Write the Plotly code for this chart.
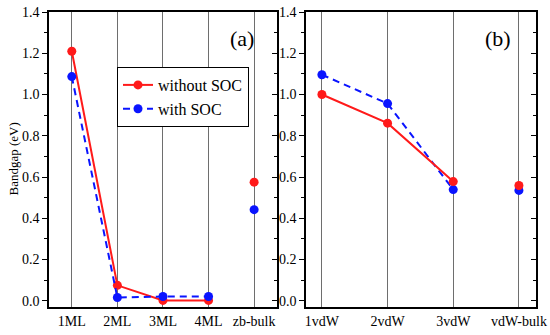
import plotly.graph_objects as go

cats_a = ["1ML", "2ML", "3ML", "4ML"]
bulk_a = ["zb-bulk"]
noSOC_a = [1.21, 0.075, 0.002, 0.002]
SOC_a = [1.087, 0.016, 0.021, 0.021]
noSOC_a_bulk = [0.575]
SOC_a_bulk = [0.442]

cats_b = ["1vdW", "2vdW", "3vdW"]
bulk_b = ["vdW-bulk"]
noSOC_b = [1.0, 0.861, 0.578]
SOC_b = [1.096, 0.956, 0.539]
noSOC_b_bulk = [0.559]
SOC_b_bulk = [0.535]

RED = "#ff1a1a"
BLUE = "#0a14ff"
DASH = "7px,5px"
FONT = "Liberation Serif, Times New Roman, DejaVu Serif, serif"

fig = go.Figure()

def add(x, y, color, dash, name, xa, ya, legend, lines=True):
    fig.add_trace(go.Scatter(
        x=x, y=y, mode="lines+markers" if lines else "markers",
        line=dict(color=color, width=2, dash=dash),
        marker=dict(color=color, size=9),
        name=name, showlegend=legend, xaxis=xa, yaxis=ya))

add(cats_a, noSOC_a, RED, "solid", "without SOC", "x", "y", True)
add(cats_a, SOC_a, BLUE, DASH, "with SOC", "x", "y", True)
add(bulk_a, noSOC_a_bulk, RED, "solid", "", "x", "y", False, False)
add(bulk_a, SOC_a_bulk, BLUE, "solid", "", "x", "y", False, False)
add(cats_b, SOC_b, BLUE, DASH, "", "x2", "y2", False)
add(cats_b, noSOC_b, RED, "solid", "", "x2", "y2", False)
add(bulk_b, SOC_b_bulk, BLUE, "solid", "", "x2", "y2", False, False)
add(bulk_b, noSOC_b_bulk, RED, "solid", "", "x2", "y2", False, False)

# dummy traces for right-side inward ticks
fig.add_trace(go.Scatter(x=["1ML"], y=[None], xaxis="x", yaxis="y3", showlegend=False))
fig.add_trace(go.Scatter(x=["1vdW"], y=[None], xaxis="x2", yaxis="y4", showlegend=False))

yr = [-0.03, 1.4]
tickfont = dict(family=FONT, size=14, color="black")
ycommon = dict(range=yr, tick0=0, dtick=0.2, automargin=False,
               tickformat=".1f", showgrid=False, zeroline=False,
               showline=True, linecolor="black", linewidth=1.5,
               ticks="outside", ticklen=5, tickwidth=1, tickcolor="black",
               minor=dict(ticks="outside", ticklen=3, tickcolor="black", dtick=0.1, tick0=0, showgrid=False),
               tickfont=tickfont)
rcommon = dict(range=yr, tick0=0, dtick=0.2, automargin=False,
               showticklabels=False, showgrid=False, zeroline=False,
               showline=True, linecolor="black", linewidth=1.5,
               ticks="inside", ticklen=5, tickwidth=1, tickcolor="black",
               minor=dict(ticks="inside", ticklen=3, tickcolor="black", dtick=0.1, tick0=0, showgrid=False),
               side="right")
xcommon = dict(type="category", showgrid=True, gridcolor="#6e6e6e", gridwidth=1,
               showline=True, linecolor="black", linewidth=1.5, mirror=True, automargin=False,
               ticks="", tickfont=tickfont, zeroline=False)

fig.update_layout(
    width=550, height=335,
    margin=dict(l=49, r=14, t=12, b=28),
    paper_bgcolor="white", plot_bgcolor="white",
    showlegend=True,
    legend=dict(x=(117 - 49) / 487, y=(307 - 67) / 295, xanchor="left", yanchor="top",
                bgcolor="white", bordercolor="black", borderwidth=1,
                font=dict(family=FONT, size=16, color="black"),
                tracegroupgap=0, itemwidth=30),
    xaxis=dict(domain=[0, 0.468], range=[-0.5, 4.5],
               categoryorder="array", categoryarray=cats_a + bulk_a, anchor="y", **xcommon),
    yaxis=dict(domain=[0, 1], anchor="x", **ycommon),
    yaxis3=dict(overlaying="y", anchor="x", **rcommon),
    xaxis2=dict(domain=[0.528, 1], range=[-0.24, 3.26],
                categoryorder="array", categoryarray=cats_b + bulk_b, anchor="y2", **xcommon),
    yaxis2=dict(domain=[0, 1], anchor="x2", **ycommon),
    yaxis4=dict(overlaying="y2", anchor="x2", **rcommon),
    annotations=[
        dict(text="Bandgap (eV)", x=(13 - 49) / 487, y=0.5, xref="paper", yref="paper", textangle=-90,
             xanchor="center", yanchor="middle", showarrow=False,
             font=dict(family=FONT, size=13, color="black")),
        dict(text="(a)", x="zb-bulk", y=1.34, xref="x", yref="y", xanchor="right", xshift=2, yanchor="top",
             showarrow=False, font=dict(family=FONT, size=22, color="black")),
        dict(text="(b)", x="vdW-bulk", y=1.34, xref="x2", yref="y2", xanchor="right", xshift=-6, yanchor="top",
             showarrow=False, font=dict(family=FONT, size=22, color="black")),
    ],
)

fig.write_html("out.html", config={"displayModeBar": False},
               post_script="document.body.style.margin='0';document.body.style.overflow='hidden';")
